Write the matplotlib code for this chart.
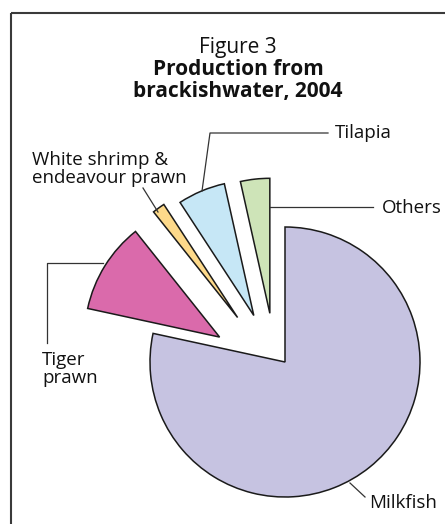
import numpy as np
import matplotlib
matplotlib.use("Agg")
import matplotlib.pyplot as plt

# Brackishwater production shares, 2004 (percent)
species = ["Milkfish", "Tiger prawn", "White shrimp & endeavour prawn", "Tilapia", "Others"]
share = [78.4, 10.9, 1.5, 5.7, 3.5]
colors = ["#c6c3e1", "#da6aab", "#fdd98a", "#c6e7f6", "#cee4b8"]

W, H = 445, 524
plt.rcParams["font.family"] = ["Open Sans", "DejaVu Sans"]

fig = plt.figure(figsize=(W / 100, H / 100), dpi=100)
ax = fig.add_axes([0, 0, 1, 1])


def fy(y):
    # image-style y (down) to data y (up)
    return H - y


# pie sits at (285, 362) with radius 135, small slices pulled out to the upper left
cx, cy, R = 285, fy(362), 135
wedges, _ = ax.pie(share, colors=colors, startangle=90, counterclock=False,
                   center=(cx, cy), radius=R, frame=True,
                   wedgeprops=dict(edgecolor="#1a1a1a", linewidth=1.1))

pull = [0, 70, 65, 56, 51]
for w, d in zip(wedges, pull):
    mid = np.deg2rad((w.theta1 + w.theta2) / 2 + 11)
    w.set_center((cx + d * np.cos(mid), cy + d * np.sin(mid)))

ax.set_xlim(0, W)
ax.set_ylim(0, H)
ax.set_aspect("equal")
ax.set_axis_off()

# border (open at right and bottom)
ax.plot([11, 11], [fy(524), fy(13)], color="#3a3a3a", lw=1.5, solid_capstyle="butt")
ax.plot([11, W], [fy(13), fy(13)], color="#3a3a3a", lw=1.5, solid_capstyle="butt")

# title
tkw = dict(ha="center", va="baseline", fontsize=15, color="#111111")
ax.text(238, fy(53), "Figure 3", **tkw)
ax.text(238, fy(75), "Production from", fontweight="bold", **tkw)
ax.text(238, fy(97), "brackishwater, 2004", fontweight="bold", **tkw)

# labels with leader lines
lc = dict(color="#333333", lw=0.9)
lbl = dict(fontsize=13.5, color="#111111", va="baseline", ha="left")

ax.plot([202, 210, 328], [fy(191), fy(133), fy(133)], **lc)
ax.text(335, fy(138), "Tilapia", **lbl)

ax.plot([143, 158], [fy(188), fy(212)], **lc)
ax.text(32, fy(165), "White shrimp &", **lbl)
ax.text(32, fy(183), "endeavour prawn", **lbl)

ax.plot([270, 373], [fy(207), fy(207)], **lc)
ax.text(382, fy(213), "Others", **lbl)

ax.plot([47, 47, 103], [fy(343), fy(263), fy(263)], **lc)
ax.text(42, fy(365), "Tiger", **lbl)
ax.text(42, fy(383), "prawn", **lbl)

ax.plot([350, 365], [fy(483), fy(497)], **lc)
ax.text(369, fy(508), "Milkfish", **lbl)

fig.savefig("out.png", dpi=100, facecolor="white")
